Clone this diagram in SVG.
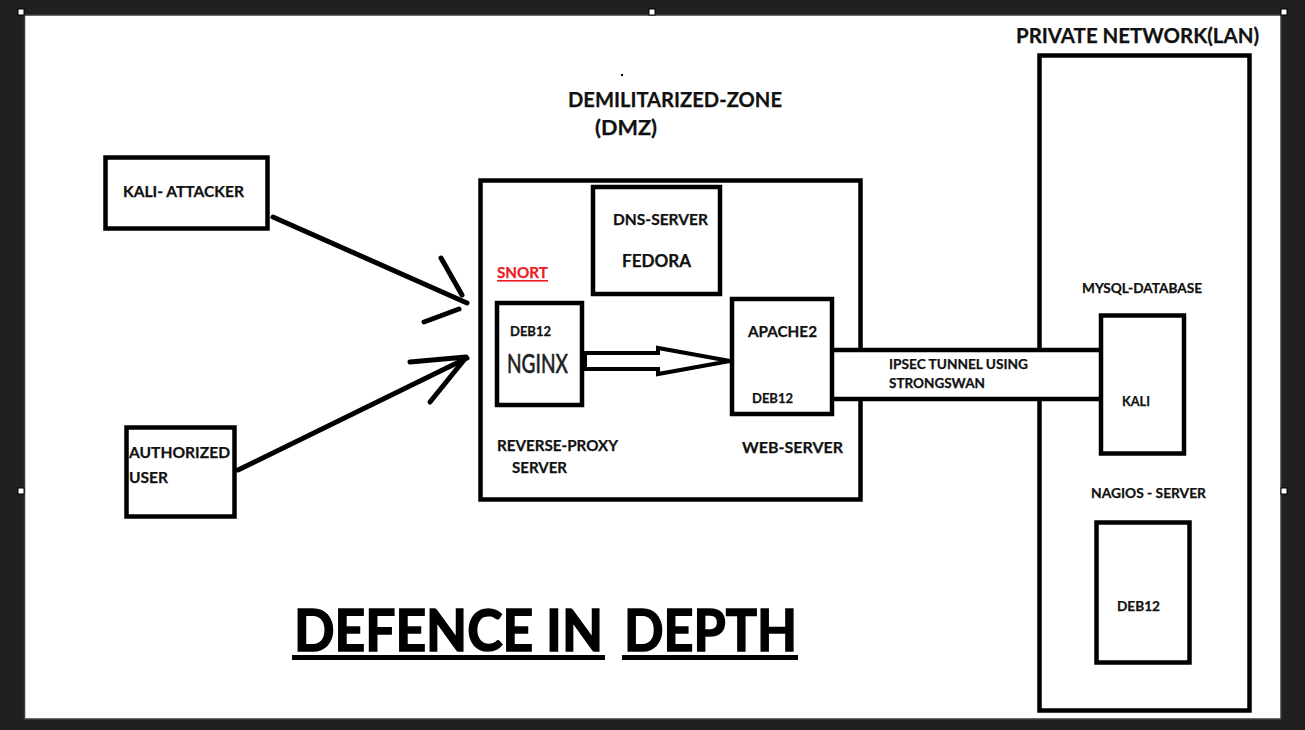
<svg xmlns="http://www.w3.org/2000/svg" width="1305" height="730" viewBox="0 0 1305 730">
<style>
.box{fill:#fff;stroke:#000;stroke-width:4.5}
.t{font-family:Lato,"Open Sans","Liberation Sans",sans-serif;font-weight:700;fill:#111;stroke:#111;stroke-width:0.25}
.ln{stroke:#000;stroke-width:5;stroke-linecap:round;fill:none}
.h{fill:#fff;stroke:#000;stroke-width:1}
</style>
<rect x="0" y="0" width="1305" height="730" fill="#202020"/>
<rect x="24.5" y="15" width="1256.5" height="704" fill="#fff" stroke="#3c3c3c" stroke-width="1.5"/>
<g id="handles">
<rect class="h" x="18" y="9" width="6" height="6"/>
<rect class="h" x="649" y="9" width="6" height="6"/>
<rect class="h" x="1281" y="9" width="6" height="6"/>
<rect class="h" x="18" y="488" width="6" height="6"/>
<rect class="h" x="1281" y="488" width="6" height="6"/>
</g>
<rect x="621" y="74" width="2" height="2" fill="#000"/>

<g id="dmz">
<rect class="box" x="480.5" y="180.5" width="380" height="319" stroke-width="5"/>
<text class="t" x="568" y="107" font-size="20.5" textLength="214" lengthAdjust="spacingAndGlyphs">DEMILITARIZED-ZONE</text>
<text class="t" x="595" y="135" font-size="20.5" textLength="62" lengthAdjust="spacingAndGlyphs">(DMZ)</text>
</g>

<g id="lan">
<rect class="box" x="1039.5" y="55.5" width="210" height="655" stroke-width="5"/>
<text class="t" x="1016" y="43" font-size="21.5" textLength="243" lengthAdjust="spacingAndGlyphs">PRIVATE NETWORK(LAN)</text>
</g>

<g id="connectors">
<line class="ln" x1="273" y1="217" x2="467" y2="303"/>
<line class="ln" x1="441" y1="258" x2="462" y2="295"/>
<line class="ln" x1="424" y1="322" x2="459" y2="309"/>
<line class="ln" x1="238" y1="470" x2="467" y2="358"/>
<line class="ln" x1="410" y1="362" x2="466" y2="357"/>
<line class="ln" x1="430" y1="402" x2="464" y2="360"/>
<polygon points="585,353 658,353 658,348 730,361 658,374 658,369 585,369" fill="#fff" stroke="#000" stroke-width="4" stroke-linejoin="miter"/>
<rect x="834" y="350" width="266" height="49" fill="#fff"/>
<line x1="833" y1="350" x2="1100" y2="350" stroke="#000" stroke-width="4.5"/>
<line x1="833" y1="399" x2="1103" y2="399" stroke="#000" stroke-width="4.5"/>
<text class="t" x="889" y="369" font-size="14" textLength="139" lengthAdjust="spacingAndGlyphs">IPSEC TUNNEL USING</text>
<text class="t" x="889" y="388" font-size="14" textLength="96" lengthAdjust="spacingAndGlyphs">STRONGSWAN</text>
</g>

<g id="kali-attacker">
<rect class="box" x="105.5" y="157.5" width="162" height="71"/>
<text class="t" x="123" y="197" font-size="16" textLength="121" lengthAdjust="spacingAndGlyphs">KALI- ATTACKER</text>
</g>

<g id="authorized-user">
<rect class="box" x="126.5" y="427.5" width="108" height="89"/>
<text class="t" x="129" y="458" font-size="15.5" textLength="101" lengthAdjust="spacingAndGlyphs">AUTHORIZED</text>
<text class="t" x="129" y="483" font-size="15.5" textLength="39" lengthAdjust="spacingAndGlyphs">USER</text>
</g>

<g id="dns-server">
<rect class="box" x="593" y="187" width="127" height="107"/>
<text class="t" x="613" y="225" font-size="15" textLength="95" lengthAdjust="spacingAndGlyphs">DNS-SERVER</text>
<text class="t" x="622" y="267" font-size="16.5" textLength="69" lengthAdjust="spacingAndGlyphs">FEDORA</text>
</g>

<g id="nginx">
<text class="t" x="497" y="278" font-size="15" style="fill:#ed1c24;stroke:#ed1c24" textLength="51" lengthAdjust="spacingAndGlyphs">SNORT</text>
<rect x="497" y="280" width="51" height="1.6" fill="#ed1c24"/>
<rect class="box" x="497" y="303" width="85" height="102"/>
<text class="t" x="510" y="336" font-size="14" textLength="41" lengthAdjust="spacingAndGlyphs">DEB12</text>
<text class="t" x="507" y="373" font-size="27" style="font-weight:500;stroke-width:0.5;fill:#222;stroke:#222" textLength="61" lengthAdjust="spacingAndGlyphs">NGINX</text>
<text class="t" x="497" y="451" font-size="16" textLength="121" lengthAdjust="spacingAndGlyphs">REVERSE-PROXY</text>
<text class="t" x="512" y="473" font-size="16" textLength="55" lengthAdjust="spacingAndGlyphs">SERVER</text>
</g>

<g id="apache">
<rect class="box" x="732" y="299" width="100" height="115"/>
<text class="t" x="748" y="337" font-size="15" textLength="69" lengthAdjust="spacingAndGlyphs">APACHE2</text>
<text class="t" x="752" y="403" font-size="14" textLength="41" lengthAdjust="spacingAndGlyphs">DEB12</text>
<text class="t" x="742" y="453" font-size="16" textLength="101" lengthAdjust="spacingAndGlyphs">WEB-SERVER</text>
</g>

<g id="mysql">
<text class="t" x="1082" y="293" font-size="13.5" textLength="120" lengthAdjust="spacingAndGlyphs">MYSQL-DATABASE</text>
<rect x="1101" y="315.5" width="83" height="138" fill="none" stroke="#000" stroke-width="4.5"/>
<text class="t" x="1122" y="406" font-size="13.5" textLength="28" lengthAdjust="spacingAndGlyphs">KALI</text>
</g>

<g id="nagios">
<text class="t" x="1091" y="498" font-size="13.5" textLength="115" lengthAdjust="spacingAndGlyphs">NAGIOS - SERVER</text>
<rect class="box" x="1096.5" y="522.5" width="93" height="140"/>
<text class="t" x="1117" y="611" font-size="14" textLength="43" lengthAdjust="spacingAndGlyphs">DEB12</text>
</g>

<g id="title">
<text class="t" x="294" y="651" font-size="58" style="fill:#000;stroke:#000;stroke-width:1.6" textLength="309" lengthAdjust="spacingAndGlyphs">DEFENCE IN</text>
<text class="t" x="624" y="651" font-size="58" style="fill:#000;stroke:#000;stroke-width:1.6" textLength="173" lengthAdjust="spacingAndGlyphs">DEPTH</text>
<rect x="292" y="655" width="313" height="5" fill="#000"/>
<rect x="622" y="655" width="176" height="5" fill="#000"/>
</g>
</svg>
